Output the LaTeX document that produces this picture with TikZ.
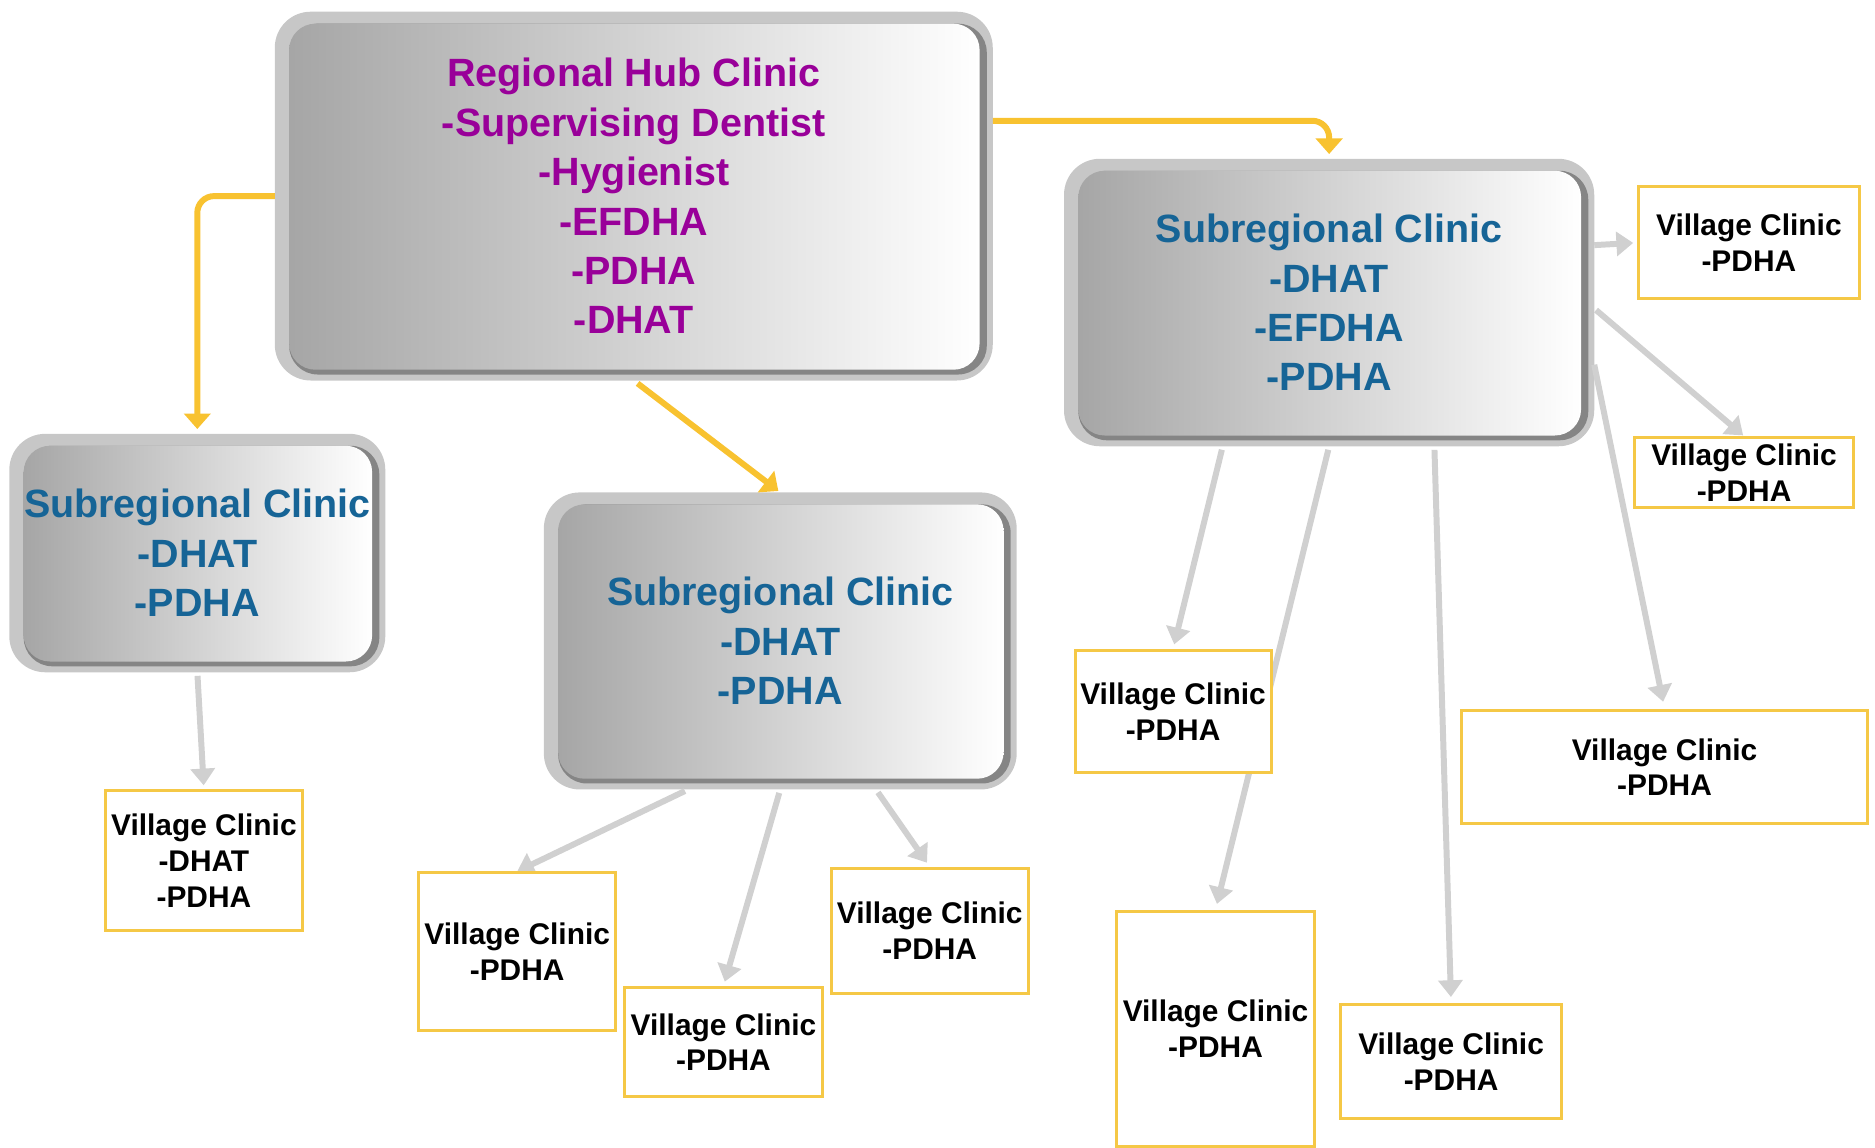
\documentclass[tikz,border=0pt]{standalone}
\usepackage{fontspec}
\setmainfont{Liberation Sans}
\usetikzlibrary{arrows.meta,calc}
\definecolor{hubpurple}{RGB}{153,0,153}
\definecolor{subblue}{RGB}{22,100,150}
\definecolor{vborder}{RGB}{245,200,70}
\definecolor{yarrowc}{RGB}{248,194,48}
\definecolor{garrowc}{RGB}{208,208,208}
\pgfdeclarelayer{bg}
\pgfdeclarelayer{mid}
\pgfsetlayers{bg,mid,main}
\newcommand\clinicbg[1]{%
  \begin{pgfonlayer}{bg}
    \fill[frame] (#1.north west) rectangle (#1.south east);
    \fill[edgeshade] ($(#1.north west)+(12,10)$) rectangle ($(#1.south east)+(-5,-5)$);
    \shade[face] ($(#1.north west)+(12,10)$) rectangle ($(#1.south east)+(-11,-9)$);
  \end{pgfonlayer}}
\begin{document}
\begin{tikzpicture}[x=1pt,y=-1pt,
  clinic/.style={inner sep=0pt, align=center, font=\bfseries\fontsize{33}{41.3}\selectfont},
  hubtext/.style={clinic, text=hubpurple},
  subtext/.style={clinic, text=subblue},
  village/.style={draw=vborder, line width=2.5pt, fill=white, align=center, inner sep=0pt,
    font=\bfseries\fontsize{25}{30}\selectfont},
  yconn/.style={draw=yarrowc, line width=5pt, -{Triangle[width=22pt,length=13pt]}, rounded corners=14pt},
  gconn/.style={draw=garrowc, line width=5pt, -{Triangle[width=20pt,length=14pt]}},
  frame/.style={fill=black!22, rounded corners=30pt},
  edgeshade/.style={fill=black!48, rounded corners=24pt},
  face/.style={left color=black!35, right color=white, rounded corners=22pt},
]
\useasboundingbox (0,0) rectangle (1568,960);

% clinics
\node[hubtext, minimum width=600pt, minimum height=308pt] (hub) at (530,164)
  {Regional Hub Clinic\\-Supervising Dentist\\-Hygienist\\-EFDHA\\-PDHA\\-DHAT};
\clinicbg{hub}
\node[subtext, minimum width=314pt, minimum height=199pt] (lsub) at (165,462.5)
  {Subregional Clinic\\-DHAT\\-PDHA};
\clinicbg{lsub}
\node[subtext, minimum width=395pt, minimum height=248pt] (msub) at (652.5,536)
  {Subregional Clinic\\-DHAT\\-PDHA};
\clinicbg{msub}
\node[subtext, minimum width=443pt, minimum height=240pt] (rsub) at (1111.5,253)
  {Subregional Clinic\\-DHAT\\-EFDHA\\-PDHA};
\clinicbg{rsub}

% village clinics
\node[village, minimum width=165pt, minimum height=117pt] (v1) at (170.5,719.5) {Village Clinic\\-DHAT\\-PDHA};
\node[village, minimum width=165pt, minimum height=132pt] (v2) at (432.5,796) {Village Clinic\\-PDHA};
\node[village, minimum width=166pt, minimum height=91pt] (v3) at (605,871.5) {Village Clinic\\-PDHA};
\node[village, minimum width=165pt, minimum height=105pt] (v4) at (777.5,778.5) {Village Clinic\\-PDHA};
\node[village, minimum width=164pt, minimum height=102pt] (v5) at (981,595) {Village Clinic\\-PDHA};
\node[village, minimum width=165pt, minimum height=197pt] (v6) at (1016.5,860.5) {Village Clinic\\-PDHA};
\node[village, minimum width=185pt, minimum height=95pt] (v7) at (1213.5,887.5) {Village Clinic\\-PDHA};
\node[village, minimum width=340pt, minimum height=95pt] (v8) at (1392,641.5) {Village Clinic\\-PDHA};
\node[village, minimum width=185pt, minimum height=94pt] (v9) at (1462.5,203) {Village Clinic\\-PDHA};
\node[village, minimum width=183pt, minimum height=58pt] (v10) at (1458.5,395) {Village Clinic\\-PDHA};

% connectors
\begin{pgfonlayer}{mid}
\draw[yconn, shorten >=4pt] (hub.west) -| (lsub.north);
\draw[yconn, shorten >=2pt, shorten <=4pt] (hub.south) -- (msub.north);
\draw[yconn, shorten >=4pt] ([yshift=63pt]hub.east) -| (rsub.north);

\draw[gconn, shorten <=3pt, shorten >=3pt] (lsub.south) -- (v1.north);
\draw[gconn, shorten <=3pt] ([xshift=-77pt]msub.south) -- (v2.north);
\draw[gconn, shorten <=3pt, shorten >=4pt] (msub.south) -- (v3.north);
\draw[gconn, shorten <=3pt, shorten >=4pt] ([xshift=80pt]msub.south) -- (v4.north);
\draw[gconn, shorten <=3pt, shorten >=4pt] ([xshift=-89pt]rsub.south) -- (v5.north);
\draw[gconn, shorten <=3pt, shorten >=5pt] (rsub.south) -- (v6.north);
\draw[gconn, shorten <=3pt, shorten >=5pt] ([xshift=88pt]rsub.south) -- (v7.north);
\draw[gconn, shorten >=3pt] ([yshift=48pt]rsub.east) -- (v9.west);
\draw[gconn, shorten <=2pt, shorten >=1pt] ([yshift=-5pt]rsub.east) -- (v10.north);
\draw[gconn, shorten >=6pt] ([yshift=-52pt]rsub.east) -- (v8.north);
\end{pgfonlayer}
\end{tikzpicture}
\end{document}
